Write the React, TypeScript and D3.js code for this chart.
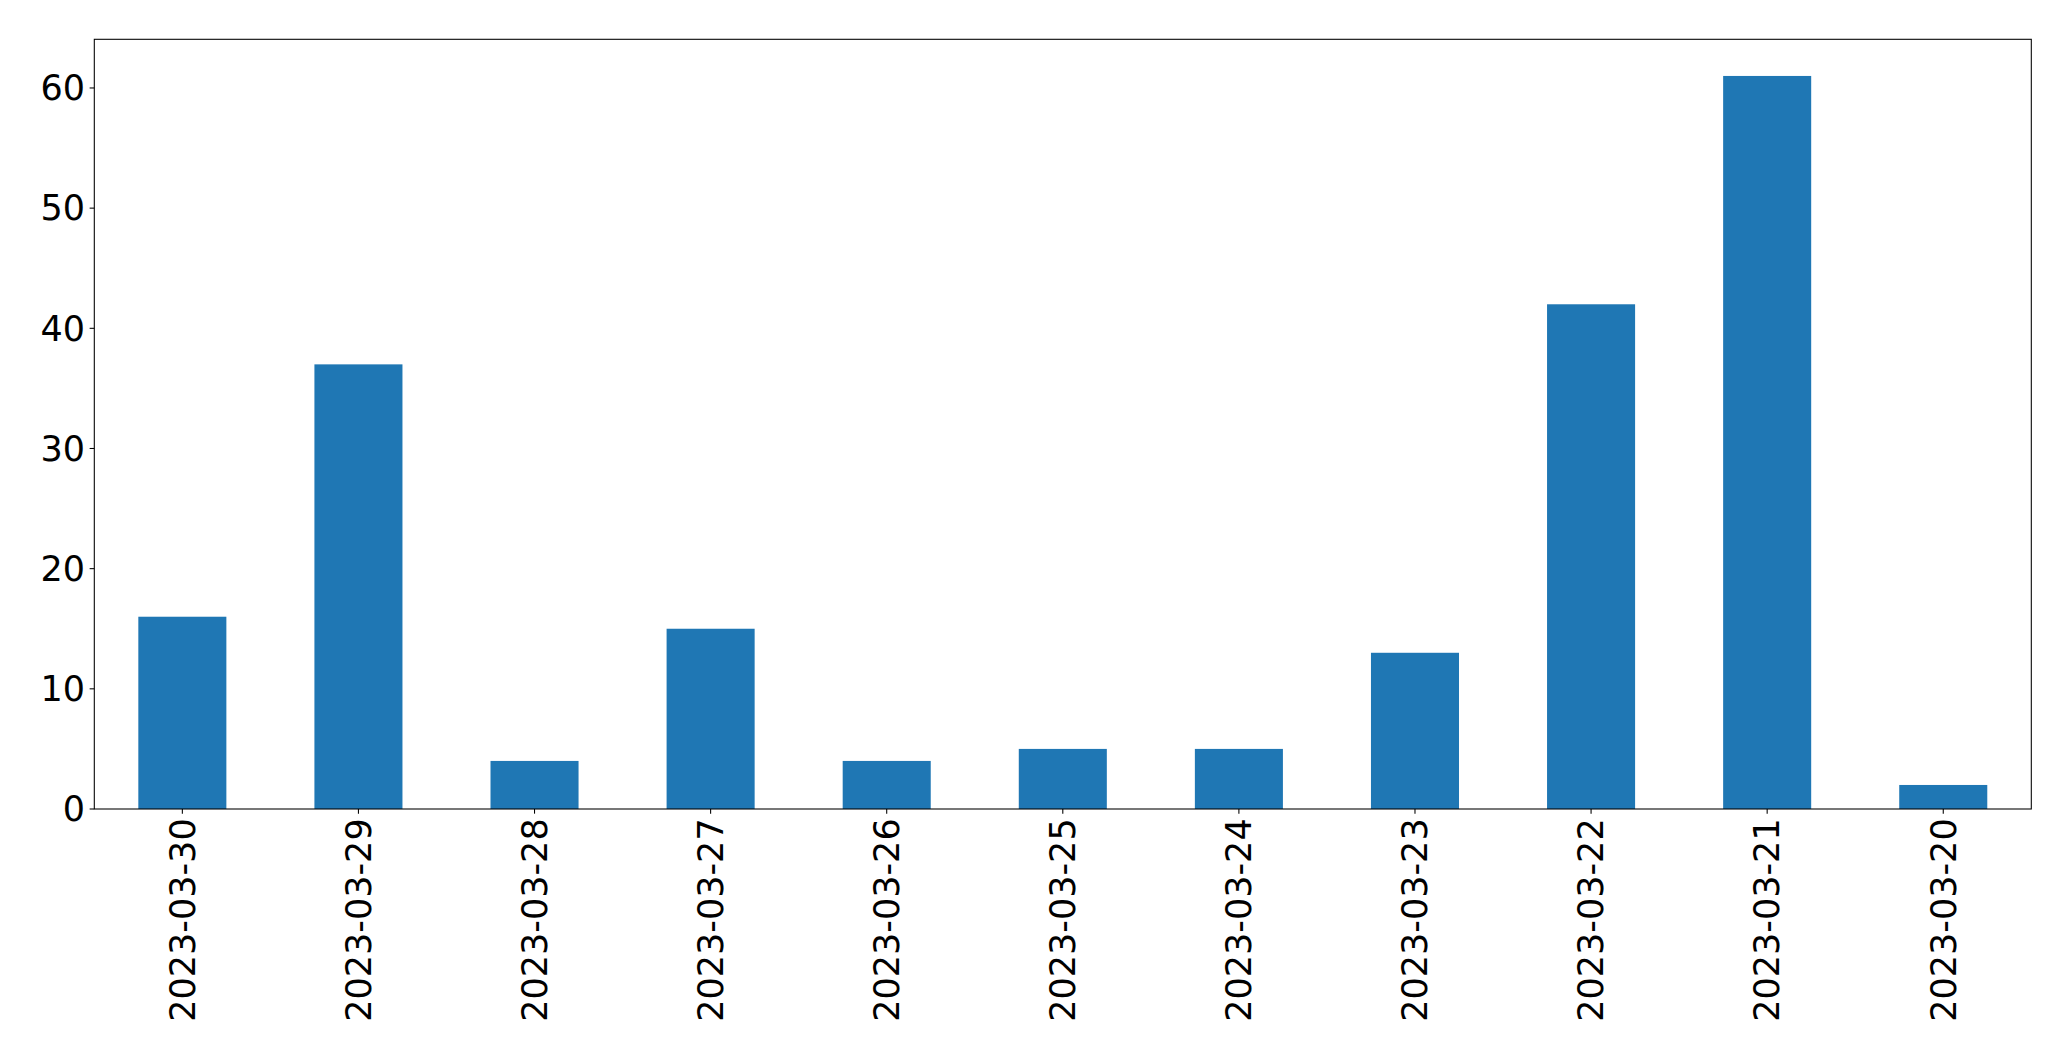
import React, { useEffect, useRef } from "react";
import * as d3 from "d3";

const categories = [
  "2023-03-30", "2023-03-29", "2023-03-28", "2023-03-27", "2023-03-26", "2023-03-25",
  "2023-03-24", "2023-03-23", "2023-03-22", "2023-03-21", "2023-03-20",
];
const values = [16, 37, 4, 15, 4, 5, 5, 13, 42, 61, 2];
const yTicks = [0, 10, 20, 30, 40, 50, 60];

const W = 2071;
const H = 1061;
const M = { left: 94.3, right: 2031.3, top: 39.3, bottom: 809 };

export default function App() {
  const ref = useRef<SVGSVGElement>(null);
  useEffect(() => {
    const svg = d3.select(ref.current);
    svg.selectAll("*").remove();
    const n = categories.length;
    const x = d3.scaleLinear().domain([-0.5, n - 0.5]).range([M.left, M.right]);
    const yMax = d3.max(values)! * 1.05;
    const y = d3.scaleLinear().domain([0, yMax]).range([M.bottom, M.top]);
    const font = "DejaVu Sans";
    const fs = 35;
    const tick = 4.67;
    const pad = 4.67;

    svg.append("rect").attr("width", W).attr("height", H).attr("fill", "white");

    svg.append("g")
      .selectAll("rect")
      .data(values)
      .join("rect")
      .attr("x", (_, i) => x(i - 0.25))
      .attr("width", (_, i) => x(i + 0.25) - x(i - 0.25))
      .attr("y", (d) => y(d))
      .attr("height", (d) => y(0) - y(d))
      .attr("fill", "#1f77b4");

    // frame
    svg.append("rect")
      .attr("x", M.left).attr("y", M.top)
      .attr("width", M.right - M.left).attr("height", M.bottom - M.top)
      .attr("fill", "none").attr("stroke", "black").attr("stroke-width", 1.07);

    // y ticks
    const yg = svg.append("g");
    yTicks.forEach((t) => {
      yg.append("line")
        .attr("x1", M.left - tick).attr("x2", M.left)
        .attr("y1", y(t)).attr("y2", y(t))
        .attr("stroke", "black").attr("stroke-width", 1.07);
      yg.append("text")
        .attr("x", M.left - tick - pad)
        .attr("y", y(t))
        .attr("dy", "0.35em")
        .attr("text-anchor", "end")
        .attr("font-family", font)
        .attr("font-size", fs)
        .attr("fill", "black")
        .text(String(t));
    });

    // x ticks
    const xg = svg.append("g");
    categories.forEach((c, i) => {
      const cx = x(i);
      xg.append("line")
        .attr("x1", cx).attr("x2", cx)
        .attr("y1", M.bottom).attr("y2", M.bottom + tick)
        .attr("stroke", "black").attr("stroke-width", 1.07);
      xg.append("text")
        .attr("transform", `translate(${cx},${M.bottom + tick + pad}) rotate(-90)`)
        .attr("dy", "0.35em")
        .attr("text-anchor", "end")
        .attr("font-family", font)
        .attr("font-size", fs)
        .attr("fill", "black")
        .text(c);
    });
  }, []);

  return (
    <svg
      ref={ref}
      width={W}
      height={H}
      style={{ position: "absolute", left: 0, top: 0, display: "block" }}
    />
  );
}
